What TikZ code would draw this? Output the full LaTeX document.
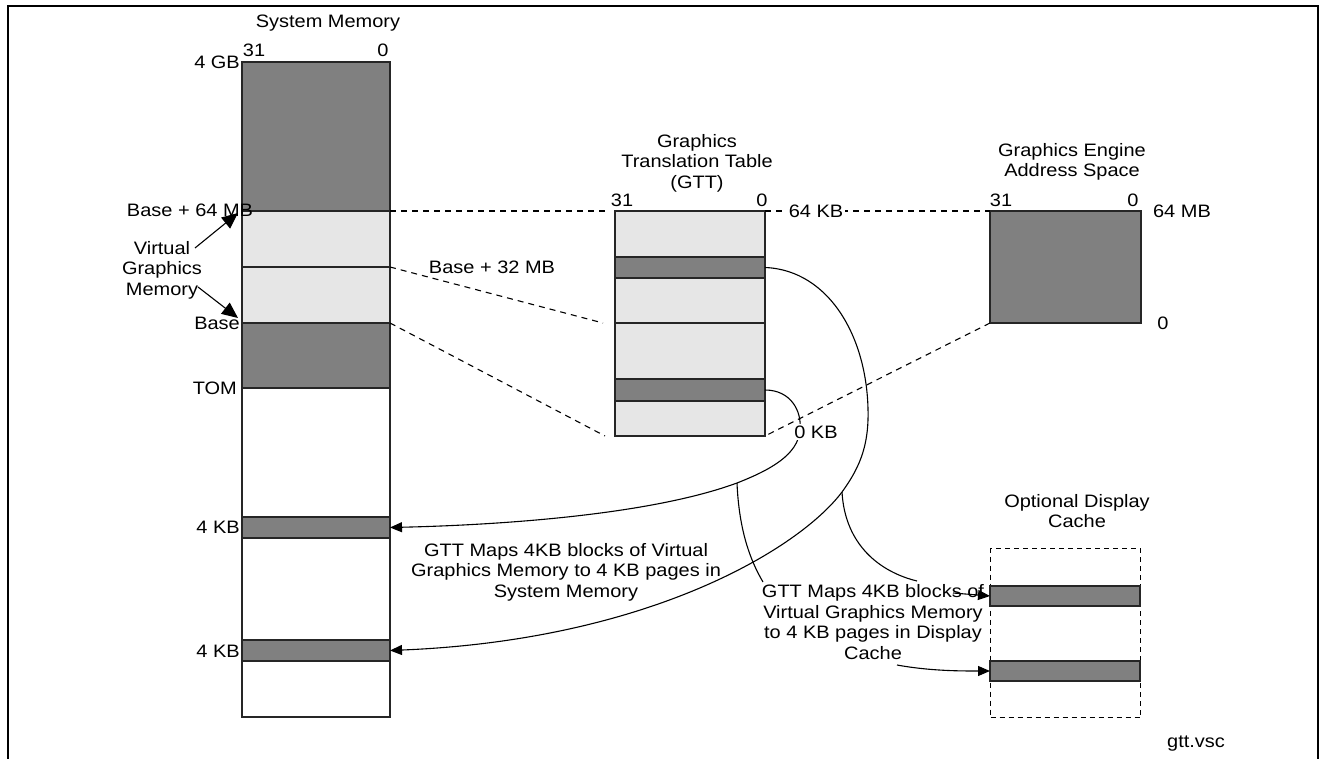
\documentclass[tikz,border=0pt]{standalone}
\usepackage{fontspec}
\setmainfont{Liberation Sans}[FakeStretch=1.11]
\usetikzlibrary{arrows.meta,calc}
\definecolor{dk}{RGB}{128,128,128}
\definecolor{lt}{RGB}{230,230,230}
\begin{document}
\begin{tikzpicture}[x=1pt,y=-1pt,
  seg/.style={draw=black!85, line width=1.3pt, inner sep=0pt, outer sep=0pt, anchor=north west},
  txt/.style={font=\fontsize{18}{20.5}\selectfont, inner sep=1pt, align=center},
  wtxt/.style={txt, fill=white, inner sep=2pt},
  ln/.style={line width=1.1pt},
  dsh/.style={line width=1.1pt, dash pattern=on 6pt off 5pt},
  arr/.style={line width=1.1pt, -{Triangle[length=12pt,width=10pt]}},
  barr/.style={line width=1.1pt, -{Triangle[length=16pt,width=14pt]}}]
\useasboundingbox (0,0) rectangle (1320,759);
\draw[line width=2.5pt] (8,759) -- (8,6) -- (1318,6) -- (1318,759);

% System memory column
\node[seg, fill=dk, minimum width=148pt, minimum height=149pt] (smA) at (242,62) {};
\node[seg, fill=lt, minimum width=148pt, minimum height=56pt] (smB) at (242,211) {};
\node[seg, fill=lt, minimum width=148pt, minimum height=56pt] (smC) at (242,267) {};
\node[seg, fill=dk, minimum width=148pt, minimum height=65pt] (smD) at (242,323) {};
\node[seg, fill=white, minimum width=148pt, minimum height=129pt] (smE) at (242,388) {};
\node[seg, fill=dk, minimum width=148pt, minimum height=21pt] (smF) at (242,517) {};
\node[seg, fill=white, minimum width=148pt, minimum height=102pt] (smG) at (242,538) {};
\node[seg, fill=dk, minimum width=148pt, minimum height=21pt] (smH) at (242,640) {};
\node[seg, fill=white, minimum width=148pt, minimum height=56pt] (smI) at (242,661) {};

% GTT
\node[seg, fill=lt, minimum width=150pt, minimum height=46pt] (gA) at (615,211) {};
\node[seg, fill=dk, minimum width=150pt, minimum height=21pt] (gB) at (615,257) {};
\node[seg, fill=lt, minimum width=150pt, minimum height=45pt] (gC) at (615,278) {};
\node[seg, fill=lt, minimum width=150pt, minimum height=56pt] (gD) at (615,323) {};
\node[seg, fill=dk, minimum width=150pt, minimum height=22pt] (gE) at (615,379) {};
\node[seg, fill=lt, minimum width=150pt, minimum height=35pt] (gF) at (615,401) {};

% Graphics engine
\node[seg, fill=dk, minimum width=151pt, minimum height=112pt] (eng) at (990,211) {};

% Display cache
\node[draw, line width=1.1pt, dash pattern=on 5pt off 4pt, inner sep=0pt, anchor=north west,
      minimum width=150pt, minimum height=169pt] (dc) at (990,548) {};
\node[seg, fill=dk, minimum width=150pt, minimum height=20pt] (dcA) at (990,586) {};
\node[seg, fill=dk, minimum width=150pt, minimum height=20pt] (dcB) at (990,661) {};

% dashed mapping lines
\coordinate (d1) at (608,211);
\coordinate (d2) at (603,323);
\coordinate (d3) at (605,436);
\draw[dsh] (smB.north east) -- (d1);
\draw[dsh] (smC.north east) -- (d2);
\draw[dsh] (smD.north east) -- (d3);
\draw[dsh] (gA.north east) -- (eng.north west);
\draw[dsh] (eng.south west) -- (gF.south east);

% curves
\coordinate (k1) at (800,430);
\coordinate (b1) at (737,483);
\coordinate (k2) at (868,420);
\coordinate (b2) at (842,492);
\draw[arr] (gE.east) .. controls (790,390) and (802,410) .. (k1)
  .. controls (798,455) and (770,470) .. (b1)
  .. controls (650,515) and (500,525) .. (smF.east);
\draw[arr] (gB.east) .. controls (830,270) and (870,340) .. (k2)
  .. controls (867,450) and (858,470) .. (b2)
  .. controls (800,548) and (650,640) .. (smH.east);
\coordinate (b1e) at (763,582);
\draw[ln] (b1) .. controls (739,530) and (750,560) .. (b1e);
\coordinate (b2e) at (917,581);
\coordinate (b2s) at (953,593);
\draw[ln] (b2) .. controls (845,545) and (880,572) .. (b2e);
\draw[arr] (b2s) -- (dcA.west);
\coordinate (c3) at (897,665);
\draw[arr] (c3) .. controls (930,671) and (960,671) .. (dcB.west);

% Virtual graphics memory arrows
\node[txt] (vgm) at (162,270) {Virtual\\Graphics\\Memory};
\coordinate (v1s) at (195,248);
\coordinate (v1e) at (238,213);
\coordinate (v2s) at (198,287);
\coordinate (v2e) at (238,318);
\draw[barr] (v1s) -- (v1e);
\draw[barr] (v2s) -- (v2e);

% labels
\node[txt] (tSM) at (328,23) {System Memory};
\node[txt] (sm31) at (254,50) {31};
\node[txt] (sm0) at (383,50) {0};
\node[txt, anchor=east] (l4gb) at (241,62) {4 GB};
\node[txt] (lb64) at (190,210) {Base + 64 MB};
\node[txt, anchor=east] (lbase) at (241,323) {Base};
\node[txt, anchor=east] (ltom) at (238,388) {TOM};
\node[txt, anchor=east] (l4a) at (241,527) {4 KB};
\node[txt, anchor=east] (l4b) at (241,651) {4 KB};
\node[txt] (lb32) at (492,267) {Base + 32 MB};
\node[txt] (tGTT) at (697,163) {Graphics\\Translation Table\\(GTT)};
\node[txt] (g31) at (622,200) {31};
\node[txt] (g0) at (762,200) {0};
\node[wtxt] (l64k) at (816,211) {64 KB};
\node[wtxt] (l0k) at (816,432) {0 KB};
\node[txt] (tENG) at (1072,162) {Graphics Engine\\Address Space};
\node[txt] (e31) at (1001,200) {31};
\node[txt] (e0) at (1133,200) {0};
\node[txt] (e64) at (1182,211) {64 MB};
\node[txt] (ez) at (1163,323) {0};
\node[txt] (tDC) at (1077,511) {Optional Display\\Cache};
\node[txt] (lsys) at (566,572) {GTT Maps 4KB blocks of Virtual\\Graphics Memory to 4 KB pages in\\System Memory};
\node[txt] (ldc) at (873,622) {GTT Maps 4KB blocks of\\Virtual Graphics Memory\\to 4 KB pages in Display\\Cache};
\node[txt] (lvsc) at (1196,744) {gtt.vsc};
\end{tikzpicture}
\end{document}
